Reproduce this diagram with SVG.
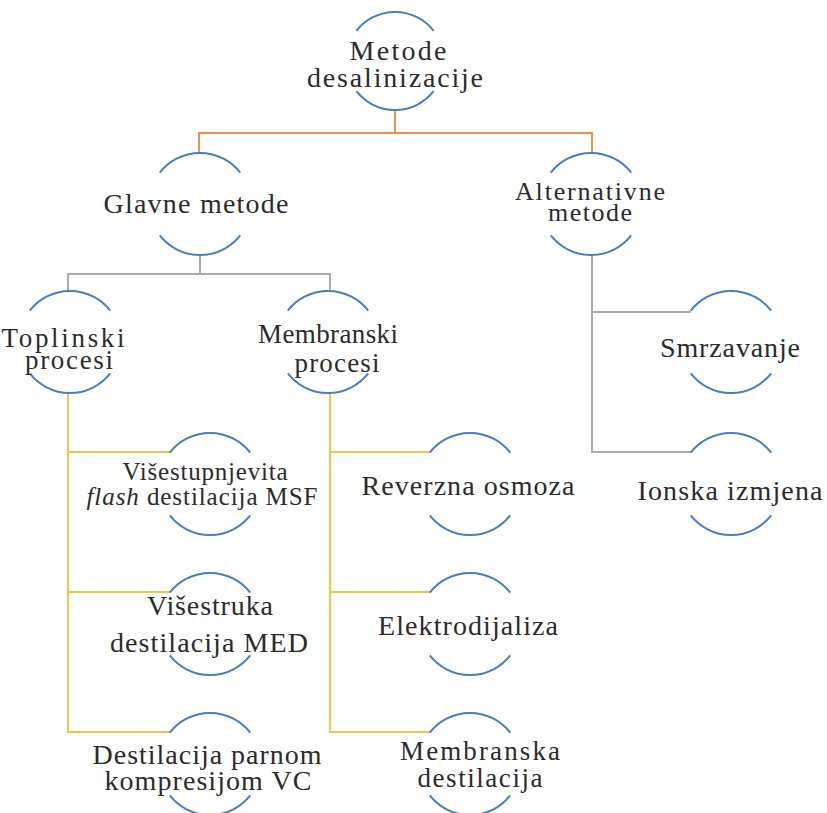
<svg xmlns="http://www.w3.org/2000/svg" xmlns:xlink="http://www.w3.org/1999/xlink" width="827" height="813" viewBox="0 0 827 813">
<style>
.t{font-family:"Liberation Serif","Times New Roman",serif;font-size:28px;fill:#2b2b2b;text-anchor:middle}
.arc{fill:none;stroke:#4a7ebb;stroke-width:2}
.c{fill:none;stroke-width:2}
.or{stroke:#ee8f50}
.gr{stroke:#ababab}
.ye{stroke:#f5c445}
</style>
<defs>
<g id="ring">
<path class="arc" d="M-40.2,-31.4 A51,51 0 0 1 40.2,-31.4"/>
<path class="arc" d="M-40.2,31.4 A51,51 0 0 0 40.2,31.4"/>
</g>
<g id="ringTop">
<path class="arc" d="M-38.6,-30.2 A49,49 0 0 1 38.6,-30.2"/>
<path class="arc" d="M-38.6,30.2 A49,49 0 0 0 38.6,30.2"/>
</g>
</defs>
<rect width="827" height="813" fill="#ffffff"/>
<g id="connectors">
<path class="c or" d="M395,110 V133 M199,153 V133 H592 V153"/>
<path class="c gr" d="M200,255 V274 M68,291 V274 H330 V291"/>
<path class="c gr" d="M592,255 V452 H691 M592,312 H691"/>
<path class="c ye" d="M68,393 V732 H170 M68,452 H170 M68,592 H170"/>
<path class="c ye" d="M330,393 V732 H430 M330,452 H430 M330,592 H430"/>
</g>
<g id="n-root">
<use xlink:href="#ringTop" transform="translate(395,61)"/>
<text class="t" x="398" y="60" textLength="97" lengthAdjust="spacing">Metode</text>
<text class="t" x="395" y="87" textLength="176" lengthAdjust="spacing">desalinizacije</text>
</g>
<g id="n-glavne">
<use xlink:href="#ring" transform="translate(200,204)"/>
<text class="t" x="196" y="213" textLength="185" lengthAdjust="spacing">Glavne metode</text>
</g>
<g id="n-alternativne">
<use xlink:href="#ring" transform="translate(591,204)"/>
<text class="t" style="font-size:26px" x="590" y="200" textLength="150" lengthAdjust="spacing">Alternativne</text>
<text class="t" style="font-size:26px" x="590" y="221" textLength="84" lengthAdjust="spacing">metode</text>
</g>
<g id="n-toplinski">
<use xlink:href="#ring" transform="translate(70,342)"/>
<text class="t" style="font-size:27px" x="63" y="347" textLength="123" lengthAdjust="spacing">Toplinski</text>
<text class="t" style="font-size:27px" x="69" y="369" textLength="88" lengthAdjust="spacing">procesi</text>
</g>
<g id="n-membranski">
<use xlink:href="#ring" transform="translate(328,342)"/>
<text class="t" style="font-size:27px" x="328" y="343" textLength="140" lengthAdjust="spacing">Membranski</text>
<text class="t" style="font-size:27px" x="337" y="372" textLength="85" lengthAdjust="spacing">procesi</text>
</g>
<g id="n-smrzavanje">
<use xlink:href="#ring" transform="translate(731,342)"/>
<text class="t" x="730" y="357" textLength="140" lengthAdjust="spacing">Smrzavanje</text>
</g>
<g id="n-ionska">
<use xlink:href="#ring" transform="translate(731,484)"/>
<text class="t" x="730" y="500" textLength="185" lengthAdjust="spacing">Ionska izmjena</text>
</g>
<g id="n-msf">
<use xlink:href="#ring" transform="translate(210,484)"/>
<text class="t" style="font-size:25px" x="205" y="480" textLength="165" lengthAdjust="spacing">Višestupnjevita</text>
<text class="t" style="font-size:25px" x="202" y="505" textLength="231" lengthAdjust="spacing"><tspan font-style="italic">flash</tspan> destilacija MSF</text>
</g>
<g id="n-med">
<use xlink:href="#ring" transform="translate(210,624)"/>
<text class="t" x="210" y="615" textLength="126" lengthAdjust="spacing">Višestruka</text>
<text class="t" x="209" y="652" textLength="198" lengthAdjust="spacing">destilacija MED</text>
</g>
<g id="n-vc">
<use xlink:href="#ring" transform="translate(210,764)"/>
<text class="t" x="207" y="764" textLength="229" lengthAdjust="spacing">Destilacija parnom</text>
<text class="t" x="208" y="790" textLength="207" lengthAdjust="spacing">kompresijom VC</text>
</g>
<g id="n-ro">
<use xlink:href="#ring" transform="translate(470,484)"/>
<text class="t" x="468" y="495" textLength="213" lengthAdjust="spacing">Reverzna osmoza</text>
</g>
<g id="n-ed">
<use xlink:href="#ring" transform="translate(470,624)"/>
<text class="t" x="468" y="635" textLength="180" lengthAdjust="spacing">Elektrodijaliza</text>
</g>
<g id="n-md">
<use xlink:href="#ring" transform="translate(470,764)"/>
<text class="t" style="font-size:27px" x="480" y="760" textLength="160" lengthAdjust="spacing">Membranska</text>
<text class="t" style="font-size:27px" x="480" y="787" textLength="125" lengthAdjust="spacing">destilacija</text>
</g>
</svg>
